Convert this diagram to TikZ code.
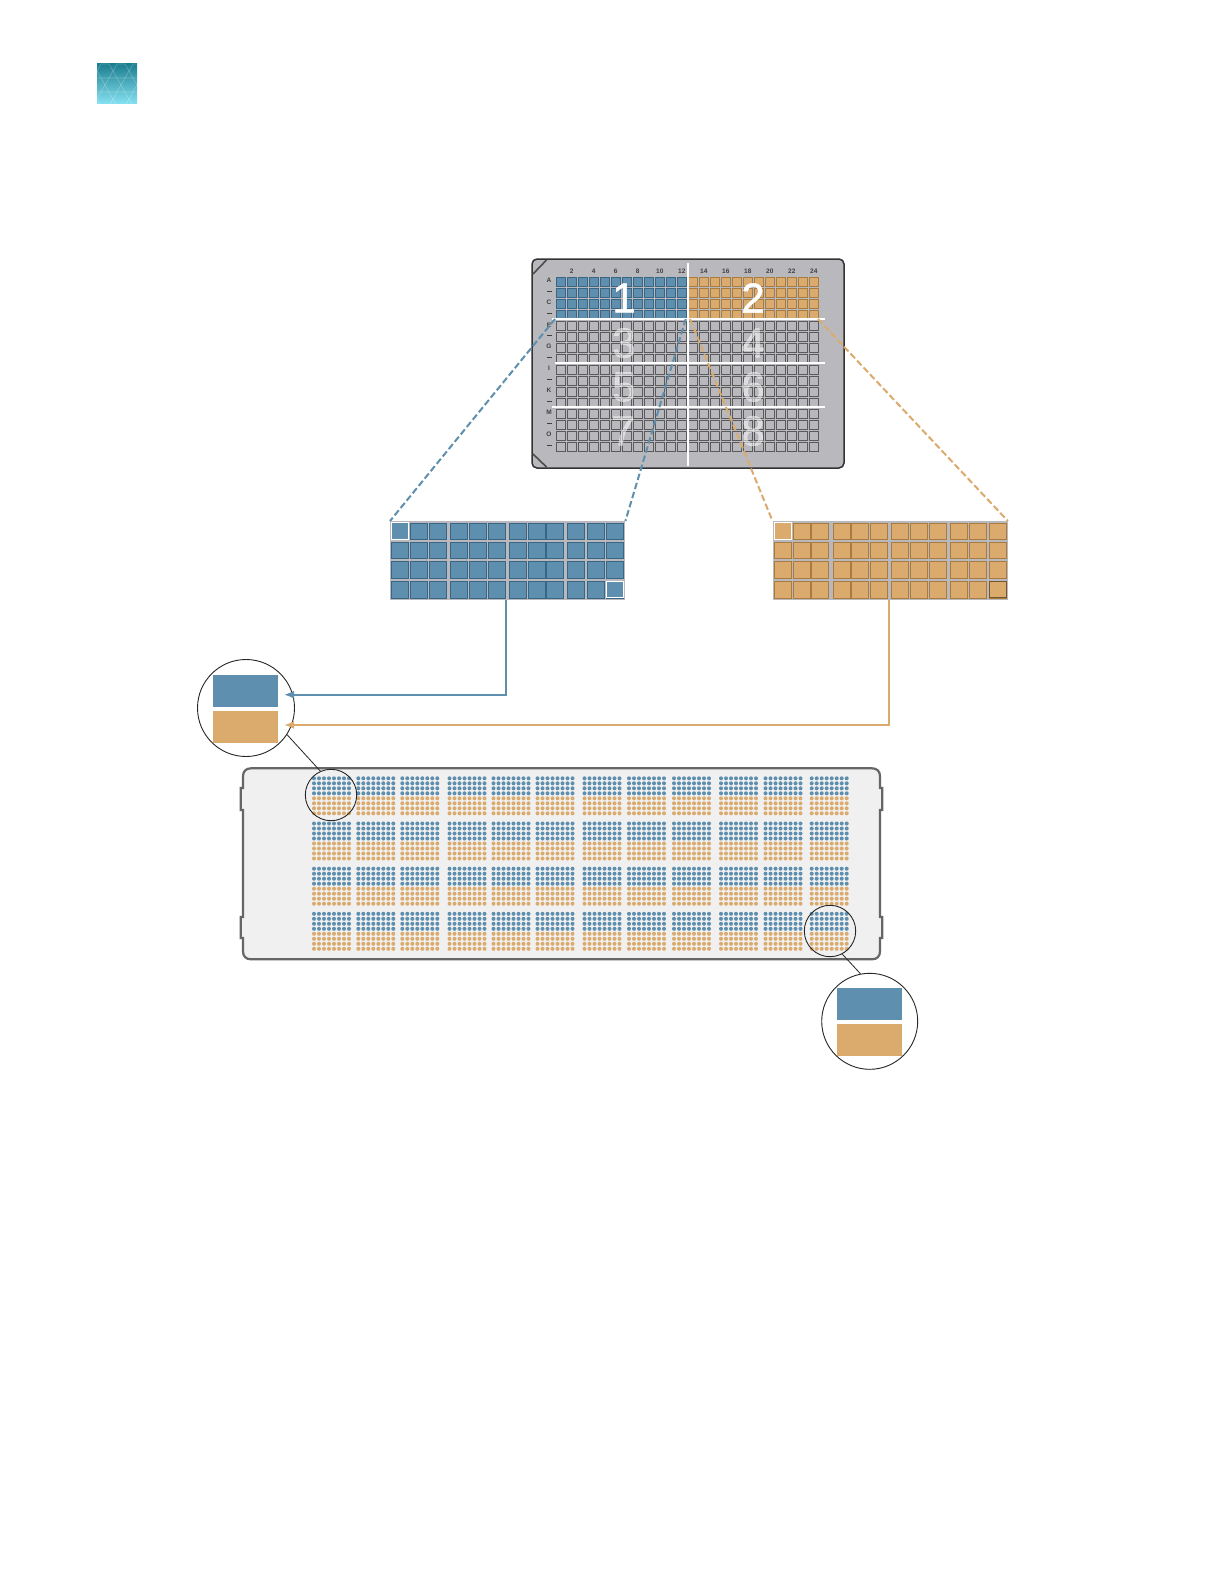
\documentclass[tikz,border=0pt]{standalone}
\usepackage{fontspec}
\setmainfont{Liberation Sans}
\newfontfamily\digitfont[FakeBold=1.2]{Liberation Sans}
\usetikzlibrary{arrows.meta}
\definecolor{pblue}{HTML}{5F8FAE}
\definecolor{pbluedk}{HTML}{3A6685}
\definecolor{porange}{HTML}{DBAB6E}
\definecolor{porangedk}{HTML}{A87C40}
\definecolor{plategray}{HTML}{B9B9BD}
\definecolor{welldk}{HTML}{5A5A5C}
\definecolor{trayline}{HTML}{666666}
\definecolor{trayfill}{HTML}{F0F0F0}
\definecolor{logotop}{HTML}{1C7F90}
\definecolor{logomid}{HTML}{48B4C8}
\definecolor{logobot}{HTML}{86E2F2}
\tikzset{
  x=1pt,y=-1pt,
  platewell/.style={draw=welldk,line width=0.5pt},
  bigdigit/.style={text=white,inner sep=0pt,font=\fontsize{42}{42}\selectfont\digitfont},
  lowdigit/.style={bigdigit,text opacity=0.5},
  coltext/.style={inner sep=0pt,text=black!75,font=\fontsize{6.5}{7}\selectfont\bfseries},
  whitebar/.style={draw=white,line width=1.8pt},
  zoomcircle/.style={circle,draw=black!85,line width=0.9pt,fill=white,inner sep=0pt},
  ringcircle/.style={circle,draw=black!85,line width=0.9pt,inner sep=0pt},
  swatch/.style={inner sep=0pt,minimum width=65pt,minimum height=32pt},
  panel/.style={fill=plategray,inner sep=0pt,minimum width=235pt,minimum height=79pt},
  bluedash/.style={draw=pblue,line width=2pt,dash pattern=on 6.5pt off 3pt},
  orangedash/.style={draw=porange,line width=2pt,dash pattern=on 6.5pt off 3pt},
  blueconn/.style={draw=pblue,line width=1.8pt,-{Latex[length=10pt,width=8pt]}},
  orangeconn/.style={draw=porange,line width=2pt,-{Latex[length=10pt,width=8pt]}},
  leader/.style={draw=black!85,line width=0.8pt},
}
\begin{document}
\begin{tikzpicture}
\useasboundingbox (0,0) rectangle (1224,1584);
\fill[white] (0,0) rectangle (1224,1584);

% logo
\begin{scope}
\clip (97,64) rectangle (137,104);
\shade[top color=logotop,middle color=logomid,bottom color=logobot] (97,64) rectangle (137,104);
\foreach \cx/\cy in {105/71,121/71,137/71,97/85,113/85,129/85,105/99,121/99,137/99}{
  \draw[white,opacity=0.25,line width=0.6pt] (\cx-8,\cy) -- (\cx-4,\cy-7) -- (\cx+4,\cy-7) -- (\cx+8,\cy) -- (\cx+4,\cy+7) -- (\cx-4,\cy+7) -- cycle;
}
\end{scope}

% plate
\draw[fill=plategray,draw=black!80,line width=1.5pt,rounded corners=5pt] (532,259) rectangle (844,468);
\draw[black!70,line width=1.6pt] (546.5,260) -- (533,274);
\draw[black!70,line width=1.6pt] (533,454) -- (546.5,467);

% plate wells
\foreach \c in {0,...,23}{
  \foreach \r in {0,...,15}{
    \pgfmathsetmacro{\wx}{556.4+11*\c}
    \pgfmathsetmacro{\wy}{277+11*\r}
    \ifnum\r<4
      \ifnum\c<12
        \draw[draw=pbluedk,fill=pblue,line width=0.6pt] (\wx,\wy) rectangle ++(8.8,8.8);
      \else
        \draw[draw=porangedk,fill=porange,line width=0.5pt] (\wx,\wy) rectangle ++(8.8,8.8);
      \fi
    \else
      \draw[platewell] (\wx,\wy) rectangle ++(8.8,8.8);
    \fi
  }
}

% lower digits, faint enough for the wells to show through
\node[lowdigit] (d3) at (624,343) {3};
\node[lowdigit] (d4) at (753,343) {4};
\node[lowdigit] (d5) at (624,387) {5};
\node[lowdigit] (d6) at (753,387) {6};
\node[lowdigit] (d7) at (623,431) {7};
\node[lowdigit] (d8) at (753,431) {8};

% plate labels
\foreach \n in {2,4,...,24}{
  \pgfmathsetmacro{\lx}{556+11*(\n-1)+4.75}
  \node[coltext] (col\n) at (\lx,271.7) {\n};
}
\foreach \l/\ly in {A/280,C/302.7,E/325,G/346.7,I/368,K/390.7,M/412.7,O/434.3}{
  \node[coltext] (row\l) at (549,\ly) {\l};
}
\foreach \ly in {291.5,313.5,335.5,357.5,379.5,401.5,423.5,445.5}{
  \fill[black!75] (546.5,\ly-0.6) rectangle (551.5,\ly+0.6);
}

% white bars
\draw[whitebar] (687.7,263) -- (687.7,466);
\draw[whitebar] (552,319) -- (825,319);
\draw[whitebar] (555,363.3) -- (825,363.3);
\draw[whitebar] (552,406.7) -- (825,406.7);
\node[bigdigit] (d1) at (624,298) {1};
\node[bigdigit] (d2) at (753,298) {2};

% panels
\node[panel,anchor=north west] (bluepanel) at (390,521) {};
\node[panel,anchor=north west] (orangepanel) at (772.5,521) {};
\foreach \r/\ry in {0/522.9,1/541.9,2/561.2,3/581.2}{
  \foreach \wx/\ox [count=\c from 0] in {391.6/774.3,410.3/793.6,429.3/811.6,450.6/833,469.3/851.6,488.3/870.6,509.6/891.6,528.6/910.6,546.6/929.3,567.6/950.3,587.3/969.6,606.6/989}{
    \draw[draw=pbluedk,fill=pblue,line width=0.5pt] (\wx,\ry) rectangle ++(17,16.6);
    \draw[draw=porangedk,fill=porange,line width=0.5pt] (\ox,\ry) rectangle ++(17,16.6);
  }
}
\draw[draw=white,line width=1pt,fill=pblue] (391.6,522.9) rectangle ++(17,16.6);
\draw[draw=white,line width=1pt,fill=pblue] (606.6,581.2) rectangle ++(17,16.6);
\draw[draw=white,line width=1pt,fill=porange] (774.3,522.9) rectangle ++(17,16.6);
\draw[draw=porangedk!70!black,line width=1pt,fill=porange] (989,581.2) rectangle ++(17,16.6);

% dashed projection lines
\coordinate (bl) at (555,319);
\coordinate (br) at (685.7,319);
\coordinate (ol) at (690,319);
\coordinate (or) at (818,319);
\draw[bluedash] (bl) -- (bluepanel.north west);
\draw[bluedash] (br) -- (bluepanel.north east);
\draw[orangedash] (ol) -- (orangepanel.north west);
\draw[orangedash] (or) -- (orangepanel.north east);

% tray
\draw[fill=trayfill,draw=trayline,line width=2.2pt]
  (251,768.3) -- (872,768.3) .. controls (877,768.3) and (880,771.3) .. (880,776.3)
  -- (880,788) -- (882.3,788) -- (882.3,810) -- (880,810) -- (880,917) -- (882.3,917) -- (882.3,938) -- (880,938)
  -- (880,951.3) .. controls (880,956.3) and (877,959.3) .. (872,959.3)
  -- (251,959.3) .. controls (246,959.3) and (243,956.3) .. (243,951.3)
  -- (243,938) -- (240.7,938) -- (240.7,917) -- (243,917) -- (243,810) -- (240.7,810) -- (240.7,788) -- (243,788)
  -- (243,776.3) .. controls (243,771.3) and (246,768.3) .. (251,768.3) -- cycle;

% dots
\foreach \gx in {314,358.3,402.3,449.5,493.5,537.5,584.5,629,674,721,765.5,811.7}{
  \foreach \gy in {778.3,823.5,868.7,913.8}{
    \foreach \i in {0,...,7}{
      \foreach \j in {0,...,3}{
        \fill[pblue] (\gx+5*\i,\gy+5*\j) circle[radius=2];
        \fill[porange] (\gx+5*\i,\gy+20+5*\j) circle[radius=2];
      }
    }
  }
}

% zoom circles
\node[zoomcircle,minimum size=97pt] (zoomA) at (246,708) {};
\node[swatch,fill=pblue,anchor=north west] (zoomAb) at (213,675) {};
\node[swatch,fill=porange,anchor=north west] (zoomAo) at (213,710.3) {};
\node[ringcircle,minimum size=51.4pt] (ringA) at (331,795) {};
\draw[leader] (zoomA.-33) -- (ringA.114);

\node[zoomcircle,minimum size=96pt] (zoomB) at (869.7,1021.3) {};
\node[swatch,fill=pblue,anchor=north west] (zoomBb) at (837,987.5) {};
\node[swatch,fill=porange,anchor=north west] (zoomBo) at (837,1023.5) {};
\node[ringcircle,minimum size=51.4pt] (ringB) at (830,931) {};
\draw[leader] (zoomB.101) -- (ringB.-62);

% connectors
\coordinate (tipb) at (284,694.7);
\coordinate (tipo) at (284,725);
\coordinate (bstart) at (506,600);
\coordinate (ostart) at (889.3,600);
\draw[blueconn] (bstart) |- (tipb);
\draw[orangeconn] (ostart) |- (tipo);
\end{tikzpicture}
\end{document}
